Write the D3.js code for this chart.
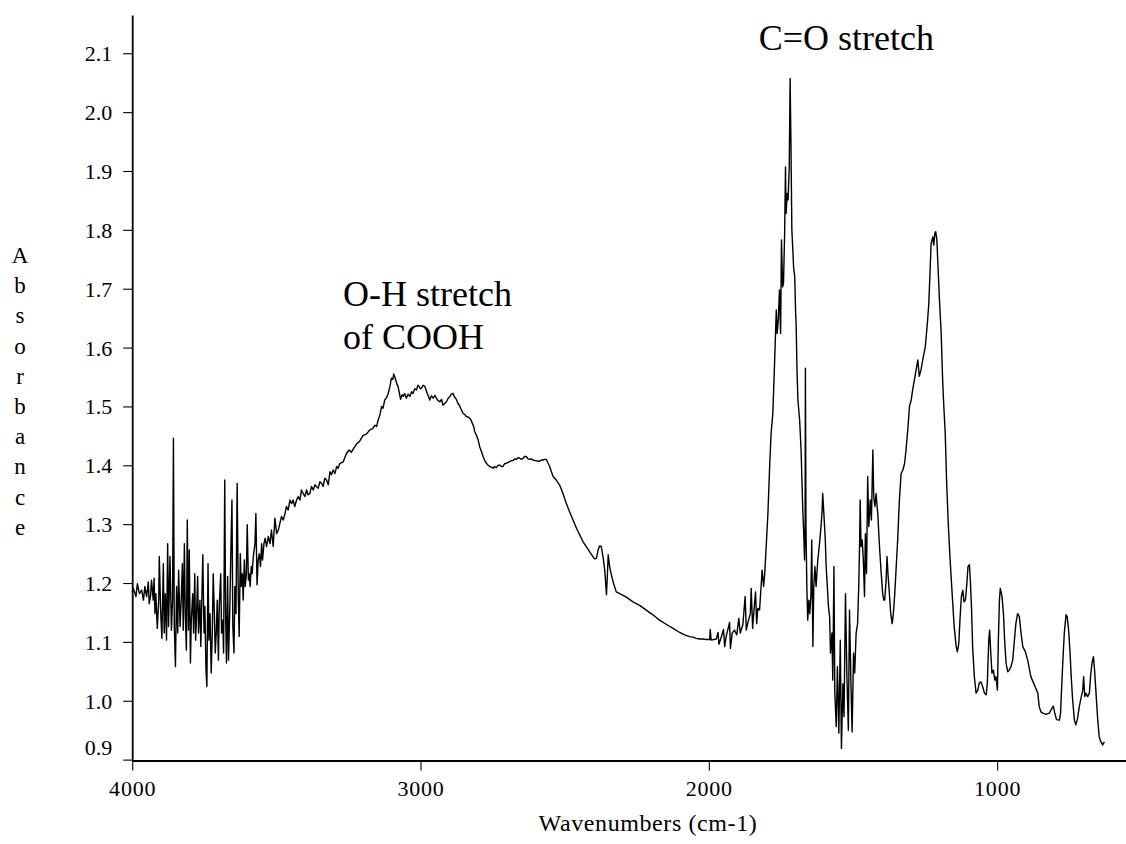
<!DOCTYPE html>
<html>
<head>
<meta charset="utf-8">
<script src="https://cdn.jsdelivr.net/npm/d3@7"></script>
<style>
  body { margin: 0; background: #fff; }
  svg { display: block; }
</style>
</head>
<body>
<svg id="chart" width="1126" height="844"></svg>
<script>
// IR spectrum, [wavenumber (cm-1), absorbance] pairs, high to low wavenumber.
const noisyHighRegion = [
  [4000,1.185],[3996,1.191],[3987,1.177],[3982,1.199],[3975,1.182],[3967,1.188],[3961,1.171],[3956,1.194],[3950,1.177],[3944,1.202],
  [3941,1.165],[3936,1.180],[3933,1.205],[3927,1.171],[3924,1.208],[3921,1.148],[3918,1.182],[3913,1.123],[3908,1.171],[3906,1.245],
  [3901,1.148],[3897,1.106],[3892,1.233],[3889,1.115],[3885,1.182],[3881,1.103],[3877,1.267],[3874,1.126],[3869,1.245],[3864,1.120],
  [3860,1.171],[3857,1.446],[3854,1.126],[3850,1.058],[3846,1.194],[3842,1.115],[3839,1.222],[3834,1.126],[3830,1.171],[3826,1.233],
  [3823,1.120],[3819,1.267],[3816,1.148],[3812,1.086],[3809,1.307],[3805,1.120],[3802,1.256],[3798,1.064],[3795,1.137],[3790,1.182],
  [3787,1.115],[3783,1.216],[3780,1.103],[3777,1.143],[3773,1.211],[3770,1.115],[3765,1.171],[3762,1.092],[3758,1.182],[3755,1.248],
  [3751,1.115],[3748,1.160],[3744,1.052],[3741,1.024],[3737,1.233],[3734,1.103],[3730,1.148],[3726,1.047],[3722,1.120],[3719,1.216],
  [3715,1.148],[3712,1.081],[3708,1.120],[3705,1.171],[3701,1.069],[3698,1.160],[3693,1.216],[3690,1.115],[3686,1.137],[3683,1.081],
  [3679,1.375],[3676,1.148],[3673,1.064],[3669,1.211],[3666,1.069],[3661,1.165],[3658,1.250],[3654,1.341],[3651,1.126],[3647,1.081],
  [3644,1.194],[3640,1.148],[3636,1.369],[3632,1.177],[3629,1.109],[3625,1.250],[3622,1.194],[3618,1.216],[3615,1.171],[3611,1.239],
  [3608,1.194],[3604,1.216],[3601,1.299],[3597,1.205],[3594,1.216],[3591,1.194],[3587,1.228],[3584,1.216],[3580,1.245],[3574,1.267],
  [3571,1.318],[3567,1.197],[3563,1.239],[3559,1.250],[3555,1.228],[3551,1.267],[3548,1.239],[3543,1.267],[3539,1.276],[3534,1.262],
  [3528,1.279],[3522,1.267],[3517,1.290],[3511,1.262],[3505,1.310],[3499,1.284],[3493,1.290],[3488,1.301],[3482,1.313],[3476,1.307],
  [3470,1.318],[3465,1.330],[3459,1.324],[3453,1.341],[3447,1.335],[3442,1.341],[3436,1.330],[3430,1.341],[3424,1.347],[3418,1.341],
  [3413,1.358],[3407,1.352],[3401,1.347],[3395,1.358],[3390,1.350],[3384,1.352],[3378,1.364],[3372,1.358],[3366,1.367],[3361,1.364],
  [3355,1.361],[3349,1.372],[3343,1.369],[3338,1.364],[3332,1.378],[3326,1.375],[3320,1.367],[3314,1.389],[3309,1.384],[3303,1.392],
  [3297,1.386],[3291,1.398],[3286,1.395],[3280,1.403],[3268,1.406],[3257,1.420],[3247,1.426]
];

// Broad O-H band of the carboxylic acid dimer
const ohBand = [
  [3240,1.422],[3233,1.428],[3222,1.436],[3211,1.441],[3199,1.451],[3188,1.453],[3176,1.460],[3167,1.462],[3158,1.468],[3152,1.466],
  [3147,1.477],[3141,1.485],[3135,1.500],[3130,1.497],[3124,1.511],[3118,1.515],[3112,1.522],[3106,1.534],[3101,1.548],[3096,1.546],
  [3093,1.555],[3089,1.550],[3086,1.545],[3082,1.538],[3078,1.534],[3073,1.522],[3069,1.512],[3064,1.520],[3060,1.517],[3055,1.522],
  [3049,1.514],[3043,1.521],[3037,1.517],[3031,1.525],[3026,1.522],[3020,1.530],[3014,1.528],[3009,1.536],[3005,1.534],[3001,1.530],
  [2997,1.531],[2991,1.536],[2985,1.534],[2980,1.527],[2977,1.522],[2972,1.517],[2968,1.511],[2962,1.518],[2956,1.514],[2950,1.519],
  [2945,1.514],[2939,1.510],[2933,1.508],[2927,1.512],[2922,1.502],[2916,1.505],[2910,1.508],[2904,1.514],[2898,1.517],[2893,1.521],
  [2887,1.522],[2882,1.516],[2878,1.514],[2874,1.510],[2870,1.505],[2865,1.502],[2861,1.497],[2856,1.492],[2852,1.488],[2846,1.486],
  [2841,1.483],[2835,1.482],[2829,1.480],[2824,1.476],[2820,1.471],[2815,1.465],[2812,1.457],[2806,1.451],[2800,1.443],[2795,1.432],
  [2789,1.424],[2783,1.415],[2777,1.408],[2771,1.403],[2765,1.400],[2760,1.398],[2754,1.397],[2748,1.395],[2743,1.398],[2737,1.396],
  [2731,1.400],[2725,1.400],[2720,1.398],[2714,1.398],[2708,1.403],[2702,1.403],[2697,1.405],[2691,1.406],[2685,1.408],[2679,1.408],
  [2673,1.411],[2668,1.410],[2662,1.413],[2656,1.412],[2650,1.410],[2644,1.412],[2639,1.415],[2633,1.415],[2627,1.411],[2621,1.410],
  [2616,1.411],[2610,1.409],[2604,1.408],[2598,1.408],[2593,1.407],[2587,1.407],[2581,1.409],[2575,1.409],[2569,1.410],[2563,1.410],
  [2558,1.404],[2552,1.398],[2546,1.389],[2540,1.381]
];

// Descent into the featureless window around 2000 cm-1
const windowRegion = [
  [2529,1.375],[2517,1.366],[2506,1.352],[2494,1.335],[2483,1.321],[2471,1.307],[2459,1.293],[2448,1.282],[2436,1.270],[2425,1.262],
  [2413,1.253],[2402,1.245],[2396,1.241],[2390,1.242],[2384,1.256],[2379,1.263],[2373,1.262],[2367,1.245],[2361,1.222],[2355,1.180],
  [2352,1.211],[2349,1.248],[2344,1.228],[2338,1.214],[2332,1.202],[2327,1.194],[2321,1.185],[2309,1.182],[2286,1.176],[2263,1.168],
  [2240,1.162],[2217,1.154],[2194,1.146],[2171,1.137],[2148,1.130],[2124,1.123],[2101,1.116],[2084,1.112],[2067,1.109],[2055,1.108],
  [2044,1.106],[2032,1.105],[2020,1.105],[2009,1.104]
];

// Carbonyl stretch and the 1600-1300 cm-1 region
const carbonylRegion = [
  [1997,1.104],[1995,1.121],[1992,1.103],[1974,1.105],[1968,1.116],[1965,1.096],[1957,1.108],[1949,1.121],[1945,1.092],[1940,1.109],
  [1928,1.133],[1925,1.089],[1919,1.115],[1911,1.120],[1903,1.112],[1896,1.140],[1891,1.115],[1882,1.129],[1874,1.177],[1870,1.120],
  [1864,1.134],[1856,1.148],[1853,1.191],[1848,1.123],[1845,1.143],[1838,1.185],[1834,1.131],[1830,1.157],[1824,1.154],[1821,1.177],
  [1815,1.222],[1810,1.194],[1806,1.216],[1801,1.262],[1795,1.318],[1789,1.398],[1784,1.454],[1778,1.488],[1772,1.573],[1766,1.664],
  [1763,1.624],[1759,1.647],[1755,1.698],[1751,1.624],[1748,1.783],[1744,1.703],[1741,1.709],[1737,1.794],[1734,1.907],[1732,1.828],
  [1728,1.862],[1725,1.851],[1721,1.907],[1718,2.057],[1715,1.941],[1712,1.800],[1709,1.770],[1706,1.737],[1702,1.720],[1699,1.660],
  [1697,1.636],[1694,1.560],[1691,1.511],[1685,1.477],[1680,1.426],[1674,1.324],[1670,1.273],[1668,1.239],[1666,1.301],[1665,1.565],
  [1663,1.296],[1660,1.194],[1657,1.137],[1653,1.171],[1650,1.148],[1646,1.177],[1643,1.273],[1639,1.092],[1636,1.194],[1632,1.228],
  [1628,1.194],[1622,1.239],[1616,1.267],[1610,1.301],[1607,1.324],[1605,1.352],[1601,1.318],[1596,1.273],[1593,1.228],[1589,1.194],
  [1585,1.160],[1581,1.143],[1578,1.081],[1573,1.115],[1570,1.035],[1566,1.228],[1563,1.013],[1558,0.956],[1554,1.058],[1549,0.945],
  [1544,1.103],[1540,0.919],[1535,1.029],[1531,0.973],[1526,1.182],[1521,1.041],[1516,0.950],[1512,1.154],[1507,1.029],[1503,0.947],
  [1498,1.081],[1494,1.047],[1489,1.115],[1484,1.131],[1480,1.194],[1477,1.267],[1475,1.341],[1472,1.262],[1468,1.273],[1464,1.239],
  [1460,1.177],[1457,1.284],[1453,1.216],[1449,1.381],[1445,1.296],[1440,1.341],[1436,1.307],[1431,1.426],[1428,1.347],[1424,1.330],
  [1420,1.352],[1414,1.318],[1408,1.262],[1402,1.216],[1397,1.182],[1393,1.171],[1390,1.171],[1385,1.205],[1382,1.245],[1378,1.211],
  [1373,1.177],[1369,1.148],[1364,1.131],[1360,1.148],[1355,1.182],[1350,1.228],[1345,1.273],[1339,1.341],[1333,1.386],[1327,1.392],
  [1321,1.403],[1316,1.426],[1310,1.460],[1304,1.500],[1298,1.511]
];

// C-O stretch band and the fingerprint region
const fingerprintRegion = [
  [1293,1.528],[1281,1.562],[1275,1.579],[1270,1.551],[1264,1.562],[1258,1.579],[1249,1.602],[1241,1.647],[1237,1.675],[1232,1.737],
  [1229,1.777],[1223,1.788],[1220,1.774],[1216,1.794],[1213,1.797],[1209,1.783],[1205,1.737],[1200,1.681],[1194,1.624],[1189,1.545],
  [1186,1.511],[1180,1.454],[1175,1.369],[1169,1.296],[1163,1.239],[1156,1.182],[1149,1.126],[1142,1.092],[1138,1.083],[1133,1.097],
  [1129,1.137],[1124,1.177],[1119,1.188],[1115,1.168],[1110,1.171],[1105,1.199],[1101,1.228],[1096,1.231],[1093,1.205],[1089,1.160],
  [1085,1.092],[1079,1.041],[1073,1.013],[1067,1.018],[1062,1.030],[1056,1.032],[1050,1.024],[1044,1.013],[1038,1.010],[1034,1.030],
  [1029,1.103],[1026,1.120],[1022,1.081],[1018,1.047],[1013,1.052],[1008,1.035],[1004,1.041],[999,1.018],[996,1.097],[992,1.171],
  [989,1.191],[983,1.177],[978,1.148],[974,1.103],[969,1.064],[963,1.049],[958,1.052],[952,1.058],[946,1.069],[940,1.103],
  [935,1.131],[929,1.148],[923,1.143],[917,1.115],[911,1.092],[902,1.083],[894,1.069],[883,1.041],[871,1.027],[859,1.013],
  [854,0.990],[848,0.981],[842,0.979],[831,0.977],[819,0.979],[810,0.987],[805,0.991],[800,0.979],[794,0.968],[784,0.967],
  [780,0.979],[773,1.058],[767,1.115],[761,1.146],[757,1.143],[752,1.120],[747,1.081],[743,1.041],[738,1.001],[732,0.967],
  [727,0.959],[721,0.970],[715,0.990],[708,1.007],[703,1.018],[700,1.041],[696,1.007],[692,1.013],[686,1.007],[680,1.013],
  [676,1.041],[671,1.064],[666,1.075],[662,1.052],[657,1.013],[651,0.967],[646,0.939],[640,0.930],[634,0.925],[628,0.930]
];

const spectrum = [].concat(noisyHighRegion, ohBand, windowRegion, carbonylRegion, fingerprintRegion);

const yMajorTicks = [0.9, 1.0, 1.1, 1.2, 1.3, 1.4, 1.5, 1.6, 1.7, 1.8, 1.9, 2.0, 2.1];
const xMajorTicks = [4000, 3000, 2000, 1000];
const yTitle = "Absorbance";
const xTitle = "Wavenumbers (cm-1)";
const bandLabels = [
  { lines: ["C=O stretch"], wn: 1827, a: 2.106 },
  { lines: ["O-H stretch", "of COOH"], wn: 3269, a: 1.671 }
];

const SERIF = "'Liberation Serif', 'Times New Roman', 'DejaVu Serif', serif";

const svg = d3.select("#chart");

const x = d3.scaleLinear().domain([4000, 553]).range([132.2, 1126]);
const y = d3.scaleLinear().domain([0.8985, 2.165]).range([760.5, 15]);

// minor tick positions: every 0.02 absorbance, every 200 cm-1
const yMinor = d3.range(45, 109).map(i => i / 50);
const xMinor = d3.range(4000, 599, -200);

// y axis
const gy = svg.append("g").attr("transform", `translate(${x(4000)},0)`);
gy.call(d3.axisLeft(y).tickValues(yMinor).tickSize(5).tickSizeOuter(0).tickFormat(""));
gy.call(d3.axisLeft(y).tickValues(yMajorTicks).tickSize(9).tickSizeOuter(0).tickPadding(11)
  .tickFormat(d3.format(".1f")));
gy.selectAll("text")
  .attr("font-family", SERIF).style("font-family", SERIF)
  .style("font-size", "22px")
  .attr("fill", "#000")
  .attr("dy", d => d === 0.9 ? "-0.22em" : "0.34em");

// x axis
const gx = svg.append("g").attr("transform", `translate(0,${y.range()[0]})`);
gx.call(d3.axisBottom(x).tickValues(xMinor).tickSize(5).tickSizeOuter(0).tickFormat(""));
gx.call(d3.axisBottom(x).tickValues(xMajorTicks).tickSize(10).tickSizeOuter(0).tickPadding(10)
  .tickFormat(d3.format("d")));
gx.selectAll("text")
  .attr("font-family", SERIF).style("font-family", SERIF)
  .style("font-size", "22px").style("letter-spacing", "0.8px")
  .attr("fill", "#000");

svg.selectAll(".domain").attr("stroke", "#000").attr("stroke-width", 1.8);
svg.selectAll(".tick line").attr("stroke", "#000").attr("stroke-width", 1.1);

// spectrum trace
const line = d3.line().x(d => x(d[0])).y(d => y(d[1]));
svg.append("path")
  .datum(spectrum)
  .attr("d", line)
  .attr("fill", "none")
  .attr("stroke", "#000")
  .attr("stroke-width", 1.4)
  .attr("stroke-linejoin", "round");

// axis titles
svg.append("text")
  .attr("x", 648).attr("y", 831)
  .attr("text-anchor", "middle")
  .style("font-family", SERIF)
  .style("font-size", "24px").style("letter-spacing", "0.6px")
  .attr("fill", "#000")
  .text(xTitle);

svg.append("g").selectAll("text")
  .data(yTitle.split(""))
  .join("text")
  .attr("x", 20)
  .attr("y", (d, i) => 263 + i * 30.2)
  .attr("text-anchor", "middle")
  .style("font-family", SERIF)
  .style("font-size", "23px")
  .attr("fill", "#000")
  .text(d => d);

// band annotations
bandLabels.forEach(b => {
  svg.append("text")
    .attr("x", x(b.wn)).attr("y", y(b.a))
    .style("font-family", SERIF)
    .style("font-size", "36px")
    .attr("fill", "#000")
    .selectAll("tspan")
    .data(b.lines)
    .join("tspan")
    .attr("x", x(b.wn))
    .attr("dy", (d, i) => i === 0 ? 0 : 43)
    .style("font-family", SERIF)
    .text(d => d);
});
</script>
</body>
</html>
